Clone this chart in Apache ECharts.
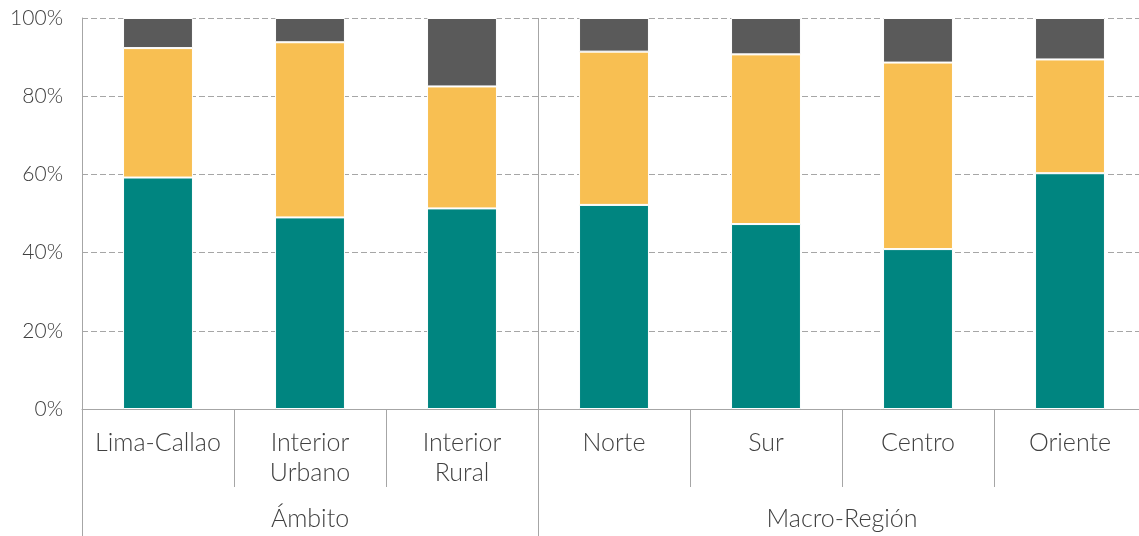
<!DOCTYPE html>
<html>
<head>
<meta charset="utf-8">
<script src="https://cdn.jsdelivr.net/npm/echarts@6/dist/echarts.min.js"></script>
<style>
  html, body { margin: 0; padding: 0; background: #fff; overflow: hidden; }
  #chart { width: 1146px; height: 536px; }
</style>
</head>
<body>
<div id="chart"></div>
<script>
  // categories and groups
  let categories = ['Lima-Callao', 'Interior\nUrbano', 'Interior\nRural', 'Norte', 'Sur', 'Centro', 'Oriente']
  let groupNames = ['Ámbito', 'Macro-Región']
  let groupBounds = [0, 3, 7]   // category index where each group starts / ends
  let groupCenters = [1.5, 5]

  // series values (%)
  let tealValues = [59.2, 49.0, 51.3, 52.2, 47.3, 40.9, 60.3]
  let yellowValues = [33.1, 44.8, 31.2, 39.2, 43.4, 47.7, 29.1]
  let grayValues = [7.7, 6.2, 17.5, 8.6, 9.3, 11.4, 10.6]

  let yTicks = [0, 20, 40, 60, 80, 100]

  let myChart = echarts.init(document.getElementById('chart'))
  let textColor = '#404040'
  let lineColor = '#a6a6a6'
  let font = 'Lato'

  function barSeries(name, data, color) {
    return {
      name: name,
      type: 'bar',
      stack: 'total',
      barWidth: '46%',
      data: data,
      itemStyle: {
        color: color,
        borderColor: '#fff',
        borderWidth: 1
      }
    }
  }

  const option = {
    animation: false,
    grid: {
      left: 82,
      right: 0,
      top: 18,
      bottom: 127
    },
    xAxis: [
      {
        type: 'category',
        data: categories,
        position: 'bottom',
        axisLine: { lineStyle: { color: lineColor, width: 1 } },
        axisTick: {
          show: true,
          interval: 0,
          length: 78,
          lineStyle: { color: lineColor, width: 1 }
        },
        axisLabel: {
          interval: 0,
          margin: 19,
          color: textColor,
          fontFamily: font,
          fontWeight: 300,
          fontSize: 25,
          lineHeight: 30
        }
      },
      {
        type: 'value',
        position: 'bottom',
        offset: 0,
        min: groupBounds[0],
        max: groupBounds[groupBounds.length - 1],
        axisLine: { show: false },
        splitLine: { show: false },
        axisTick: {
          show: true,
          customValues: groupBounds.slice(0, 2),
          length: 127,
          lineStyle: { color: lineColor, width: 1 }
        },
        axisLabel: {
          customValues: groupCenters,
          margin: 97,
          color: textColor,
          fontFamily: font,
          fontWeight: 300,
          fontSize: 25,
          formatter: function (v) {
            let i = groupCenters.indexOf(v)
            return i >= 0 ? groupNames[i] : ''
          }
        }
      }
    ],
    yAxis: {
      type: 'value',
      min: yTicks[0],
      max: yTicks[yTicks.length - 1],
      interval: 20,
      axisLine: { show: true, lineStyle: { color: lineColor, width: 1 } },
      axisTick: { show: false },
      axisLabel: {
        formatter: '{value}%',
        margin: 19,
        color: textColor,
        fontFamily: font,
        fontWeight: 300,
        fontSize: 21
      },
      splitLine: {
        show: true,
        lineStyle: { color: lineColor, type: [6, 3], width: 1 }
      }
    },
    series: [
      barSeries('A', tealValues, '#008580'),
      barSeries('B', yellowValues, '#f8bf52'),
      barSeries('C', grayValues, '#5a5a5a'),
      {
        type: 'line',
        xAxisIndex: 1,
        data: [],
        markLine: {
          silent: true,
          symbol: 'none',
          label: { show: false },
          lineStyle: { color: lineColor, type: 'solid', width: 1 },
          data: [{ xAxis: groupBounds[1] }]
        }
      }
    ]
  }
  myChart.setOption(option)
</script>
</body>
</html>
